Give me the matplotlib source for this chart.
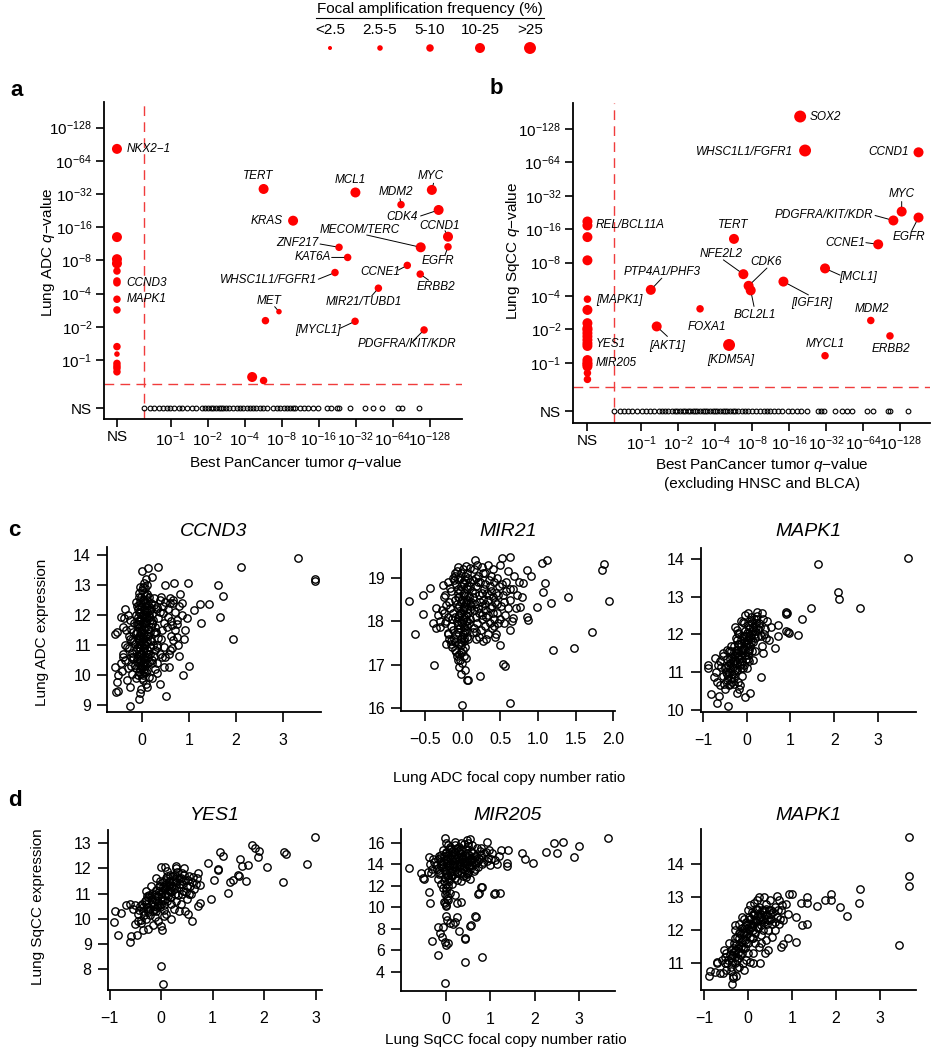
import numpy as np
import matplotlib
matplotlib.use("Agg")
import matplotlib.pyplot as plt

plt.rcParams['font.family'] = ['Liberation Sans', 'DejaVu Sans']
plt.rcParams['mathtext.fontset'] = 'custom'
plt.rcParams['mathtext.rm'] = 'Liberation Sans'
plt.rcParams['mathtext.it'] = 'Liberation Sans:italic'
plt.rcParams['mathtext.bf'] = 'Liberation Sans:bold'

# ---------------- DATA ----------------
LEG_LABELS = ['<2.5', '2.5-5', '5-10', '10-25', '>25']
CAT_DIAM_PT = [2.9, 4.0, 5.4, 7.2, 8.6]   # marker diameters (style)

# values are -log10(q); np.nan = NS
A_GENES = ['NKX2−1', 'CCND3', 'MAPK1', 'TERT', 'KRAS', 'MCL1', 'MDM2', 'MYC', 'CDK4', 'CCND1',
           'EGFR', 'MECOM/TERC', 'ZNF217', 'KAT6A', 'CCNE1', 'ERBB2', 'WHSC1L1/FGFR1',
           'MIR21/TUBD1', 'MET', '[MYCL1]', 'PDGFRA/KIT/KDR']
A_PAN = [np.nan, np.nan, np.nan, 5.7, 9.9, 31.8, 74.7, 133, 151, 180,
         180, 108, 23.4, 27.5, 84, 107, 21.7, 48.9, 7.6, 31.6, 115]
A_LUNG = [82, 5.0, 3.55, 35.5, 18.3, 33, 25.6, 34.8, 22.9, 13.1,
          10.6, 10.5, 10.5, 8.5, 7.2, 6.0, 6.2, 4.47, 2.74, 2.24, 1.87]
A_CAT = [3, 2, 2, 3, 3, 3, 2, 3, 3, 3, 2, 3, 2, 2, 2, 2, 2, 2, 1, 2, 2]
A_X_PAN = [5.9, 4.6, 5.7, np.nan, np.nan, np.nan, np.nan, np.nan, np.nan, np.nan, np.nan,
           np.nan, np.nan, np.nan, np.nan]
A_X_LUNG = [2.27, 0.70, 0.65, 13, 8.2, 7.5, 6.4, 5.2, 2.84, 1.32, 1.13, 0.93, 0.88, 0.84, 0.78]
A_X_CAT = [2, 3, 2, 3, 3, 3, 2, 2, 2, 2, 1, 2, 2, 2, 2]
A_NS_PAN = [0.61, 0.68, 0.73, 0.80, 0.87, 0.93, 0.99, 1.06, 1.16, 1.23, 1.35, 1.48, 1.62, 1.79,
            1.91, 2.03, 2.11, 2.22, 2.35, 2.45, 2.55, 2.68, 2.83, 3.01, 3.23, 3.48, 3.66, 3.89,
            4.14, 4.41, 4.69, 4.96, 5.28, 5.66, 6.02, 6.82, 7.26, 7.73, 8.28, 8.82, 9.38, 9.85,
            10.3, 11.3, 12.1, 13.2, 14.5, 15.9, 18.6, 20.0, 22.5, 23.6, 28.8, 38.1, 44.6, 52,
            70, 75.6, 105]

B_GENES = ['SOX2', 'WHSC1L1/FGFR1', 'CCND1', 'MYC', 'PDGFRA/KIT/KDR', 'EGFR', 'CCNE1', 'TERT',
           'REL/BCL11A', '[MAPK1]', 'YES1', 'MIR205', 'PTP4A1/PHF3', 'NFE2L2', 'CDK6', 'BCL2L1',
           '[IGF1R]', '[MCL1]', 'FOXA1', '[AKT1]', '[KDM5A]', 'MDM2', 'ERBB2', 'MYCL1']
B_PAN = [19.7, 21.6, 181, 132, 113, 181, 85, 5.7,
         np.nan, np.nan, np.nan, np.nan, 1.2, 6.8, 7.5, 7.8,
         14.4, 31.4, 3.02, 1.34, 5.2, 74, 106, 31.4]
B_LUNG = [166, 82, 79, 23.1, 19.2, 20.4, 11.7, 13.1,
          17.3, 3.75, 1.5, 1.0, 4.55, 6.3, 4.95, 4.5,
          5.4, 7.1, 3.07, 2.13, 1.45, 2.41, 1.75, 1.16]
B_CAT = [4, 4, 3, 3, 3, 3, 3, 3, 3, 2, 3, 3, 3, 3, 3, 3, 3, 3, 2, 3, 4, 2, 2, 2]
B_X_LUNG = [18.8, 13.6, 8.4, 3.0, 2.28, 2.05, 1.98, 1.85, 1.73, 1.61, 1.42, 1.06, 0.97, 0.93,
            0.81, 0.71]
B_X_CAT = [3, 3, 3, 3, 3, 3, 3, 3, 3, 3, 3, 3, 3, 3, 2, 2]
B_NS_PAN = [0.60, 0.67, 0.73, 0.79, 0.85, 0.92, 1.01, 1.10, 1.18, 1.28, 1.39, 1.47, 1.57, 1.67,
            1.78, 1.89, 1.97, 2.07, 2.19, 2.28, 2.39, 2.50, 2.64, 2.75, 2.87, 3.01, 3.18, 3.32,
            3.46, 3.63, 3.84, 4.0, 4.17, 4.41, 4.63, 4.82, 5.03, 5.31, 5.58, 5.82, 6.19, 6.59,
            7.01, 7.46, 7.94, 8.63, 9.32, 9.92, 10.6, 11.2, 12.0, 13.1, 13.9, 15.8, 16.8, 18.5,
            20.0, 22.3, 27.3, 29.0, 30.9, 37.8, 42.8, 47.2, 51.6, 68.6, 77.7, 103, 106, 150]

Q_THRESH = 0.25
Q_TICKS = [1, 2, 4, 8, 16, 32, 64, 128]

# copy number ratio vs expression (x = focal copy number ratio, y = expression)
C_CCND3 = [(3.33, 13.89), (3.69, 13.19), (3.69, 13.13), (2.11, 13.59), (1.93, 11.2), (1.63, 13.02),
           (1.72, 12.63), (1.67, 11.94), (1.42, 12.37), (1.24, 12.37), (1.26, 11.74), (1.11, 12.17),
           (0.99, 13.06), (1.01, 10.3), (0.87, 10.0), (0.82, 12.7), (0.69, 13.06), (0.80, 10.63),
           (0.50, 13.0), (0.35, 13.61), (0.13, 13.58), (0.22, 13.28), (0.0, 13.48), (0.52, 9.3),
           (0.39, 9.69), (-0.05, 9.22), (-0.04, 9.39), (-0.26, 8.98), (-0.26, 9.61), (-0.55, 9.44),
           (-0.50, 9.48), (-0.53, 9.78), (-0.32, 9.83), (-0.57, 10.28), (-0.52, 11.44), (-0.57, 11.37),
           (-0.45, 11.94), (-0.38, 11.92), (-0.26, 11.83), (-0.33, 11.5), (-0.21, 11.17), (-0.32, 10.94),
           (-0.39, 10.59), (-0.18, 10.61), (0.57, 10.28), (0.48, 10.28), (0.32, 10.06), (0.21, 9.89),
           (0.09, 9.72), (0.67, 11.17), (0.64, 11.67), (0.74, 11.28), (0.74, 11.83), (0.92, 11.5),
           (0.85, 12.0), (0.96, 11.89), (0.67, 12.39), (0.60, 12.56), (0.39, 12.5), (0.32, 12.28),
           (0.46, 12.06), (0.53, 11.61), (0.60, 10.83), (0.50, 10.61), (0.32, 10.94), (0.25, 11.39),
           (0.21, 11.72), (0.18, 12.17), (0.25, 12.56), (0.11, 12.72), (0.14, 12.33), (0.18, 11.17),
           (0.14, 10.61), (0.21, 10.39), (0.11, 10.17), (0.04, 13.06), (0.02, 12.94), (0.07, 12.89),
           (-0.05, 12.6), (0.02, 12.5), (0.07, 12.4), (-0.02, 12.3), (0.04, 12.2), (-0.07, 12.1),
           (0.01, 12.0), (0.06, 11.9), (-0.03, 11.8), (0.03, 11.7), (-0.06, 11.6), (0.0, 11.5),
           (0.05, 11.4), (-0.04, 11.3), (0.02, 11.2), (0.08, 11.1), (-0.02, 11.0), (0.04, 10.9),
           (-0.06, 10.8), (0.01, 10.7), (0.06, 10.6), (-0.03, 10.5), (0.03, 10.4), (-0.01, 10.3),
           (0.05, 10.2), (-0.05, 10.1), (0.02, 10.0), (0.0, 9.9), (-0.08, 11.95), (0.09, 11.75),
           (-0.09, 11.25), (0.1, 10.85), (-0.1, 10.55), (0.12, 12.25), (-0.12, 12.45), (0.14, 11.55),
           (-0.14, 11.05), (0.15, 10.45), (-0.15, 10.35), (0.0, 12.85), (0.05, 12.75), (-0.03, 12.95),
           (0.1, 12.1), (0.13, 11.3), (-0.11, 11.7), (0.18, 11.85), (0.2, 11.15), (0.22, 12.05),
           (-0.18, 11.45), (-0.2, 10.75), (0.25, 10.65), (0.28, 11.6), (0.3, 12.2), (0.35, 11.9),
           (0.33, 11.0), (0.38, 10.7), (0.42, 11.5), (0.45, 12.3), (-0.25, 11.2), (-0.22, 10.3),
           (-0.28, 10.9), (-0.35, 10.5), (-0.4, 11.6), (-0.3, 12.0), (0.4, 12.6), (0.55, 11.95),
           (0.6, 12.4), (0.62, 11.3), (0.7, 12.1), (0.75, 11.7), (0.8, 12.3), (0.65, 10.9),
           (0.58, 10.7), (0.47, 10.95), (0.16, 9.95), (-0.13, 9.9), (0.27, 10.2), (0.1, 9.6),
           (-0.02, 9.55),
           (-0.07, 12.75), (0.08, 12.65), (-0.04, 12.45), (0.09, 12.35), (-0.09, 12.2), (0.05, 12.05),
           (-0.05, 11.85), (0.1, 11.95), (-0.08, 11.7), (0.07, 11.6), (-0.02, 11.45), (0.09, 11.35),
           (-0.07, 11.15), (0.05, 11.05), (-0.05, 10.95), (0.08, 10.75), (-0.08, 10.65), (0.04, 10.55),
           (-0.06, 10.4), (0.07, 10.3), (-0.03, 10.2), (0.09, 10.1), (-0.09, 10.0), (0.03, 9.85),
           (0.15, 12.6), (0.2, 12.4), (0.26, 12.35), (0.16, 12.0), (0.22, 11.75), (0.3, 11.45),
           (0.17, 11.45), (0.24, 11.0), (0.28, 10.85), (0.18, 10.7), (0.22, 10.5), (0.32, 10.4),
           (0.35, 11.25), (0.4, 11.2), (0.38, 12.1), (0.48, 11.75), (0.5, 12.45), (0.44, 10.6),
           (-0.13, 12.0), (-0.16, 11.75), (-0.12, 11.4), (-0.17, 11.15), (-0.13, 10.85), (-0.18, 10.55),
           (-0.12, 10.25), (-0.2, 10.05), (-0.24, 11.55), (-0.27, 11.3), (-0.24, 10.6), (-0.3, 10.25),
           (-0.35, 11.0), (-0.4, 10.7), (-0.45, 10.4), (-0.42, 10.15), (-0.5, 10.0), (-0.36, 12.2),
           (0.12, 13.0), (0.08, 13.2), (0.55, 12.2), (0.62, 11.8), (0.7, 11.5), (0.66, 12.5),
           (0.85, 12.4), (0.9, 11.2), (0.78, 11.0),
           (-0.01, 12.62), (0.04, 12.52), (-0.06, 12.35), (0.01, 12.27), (0.06, 12.15), (-0.03, 12.07),
           (0.03, 11.97), (-0.01, 11.88), (0.07, 11.82), (-0.05, 11.72), (0.0, 11.63), (0.05, 11.55),
           (-0.02, 11.38), (0.03, 11.28), (-0.06, 11.22), (0.01, 11.12), (0.06, 11.02), (-0.03, 10.92),
           (0.02, 10.82), (-0.04, 10.72), (0.03, 10.62), (-0.01, 10.52), (0.05, 10.45), (-0.04, 10.35),
           (0.01, 10.25), (0.04, 10.12), (-0.02, 10.05), (0.11, 12.5), (0.12, 11.15), (0.13, 10.7),
           (-0.1, 11.45), (-0.11, 10.9), (0.11, 10.4), (-0.1, 12.3), (0.16, 11.95), (0.19, 12.25),
           (0.2, 11.6), (0.17, 10.95), (0.24, 11.85), (0.27, 11.45)]

C_MIR21 = [(-0.71, 18.47), (-0.64, 17.71), (-0.53, 18.6), (-0.53, 18.16), (-0.43, 18.76), (-0.35, 18.3),
           (-0.38, 16.99), (-0.39, 17.97), (-0.35, 17.84), (-0.30, 17.86), (-0.26, 18.83), (-0.24, 18.6),
           (-0.22, 18.37), (-0.19, 17.74), (-0.22, 17.48), (-0.15, 17.48), (-0.11, 17.52), (-0.09, 17.3),
           (-0.07, 17.11), (-0.05, 16.96), (-0.03, 16.8), (0.03, 16.88), (0.07, 16.65), (0.23, 16.74),
           (-0.005, 16.07), (0.16, 19.41), (-0.17, 18.76), (-0.13, 18.99),
           (1.05, 19.34), (1.12, 19.41), (1.88, 19.31), (1.85, 19.18), (1.94, 18.46), (1.72, 17.76),
           (1.40, 18.56), (1.17, 18.43), (1.20, 17.34), (1.48, 17.39), (1.07, 18.68), (1.09, 18.87),
           (0.98, 18.33), (0.91, 19.04), (0.85, 18.1), (0.87, 18.03), (0.76, 18.33), (0.80, 18.87),
           (0.85, 19.18), (0.67, 18.07), (0.63, 17.8), (0.53, 17.03), (0.56, 16.97), (0.62, 16.13),
           (0.49, 17.45), (0.43, 17.64), (0.52, 19.45), (0.63, 19.47), (0.05, 16.65),
           (-0.08, 19.15), (0.0, 19.2), (0.06, 19.1), (-0.04, 19.0), (0.03, 18.95), (0.1, 18.9),
           (-0.09, 18.85), (-0.02, 18.8), (0.05, 18.75), (0.12, 18.7), (-0.06, 18.65), (0.01, 18.6),
           (0.08, 18.55), (-0.1, 18.5), (-0.03, 18.45), (0.04, 18.4), (0.11, 18.35), (-0.07, 18.3),
           (0.0, 18.25), (0.07, 18.2), (-0.05, 18.15), (0.02, 18.1), (0.09, 18.05), (-0.08, 18.0),
           (-0.01, 17.95), (0.06, 17.9), (-0.04, 17.85), (0.03, 17.8), (-0.06, 17.75), (0.0, 17.7),
           (0.05, 17.65), (-0.03, 17.6), (0.02, 17.55), (-0.02, 17.45), (0.0, 17.35), (-0.05, 17.25),
           (0.04, 17.15), (-0.01, 17.05),
           (0.15, 19.2), (0.2, 19.05), (0.25, 19.25), (0.3, 19.1), (0.35, 18.95), (0.4, 19.2),
           (0.45, 19.0), (0.18, 18.8), (0.22, 18.6), (0.28, 18.75), (0.33, 18.5), (0.38, 18.7),
           (0.43, 18.45), (0.48, 18.8), (0.53, 18.6), (0.58, 18.9), (0.16, 18.4), (0.21, 18.2),
           (0.26, 18.35), (0.31, 18.1), (0.36, 18.3), (0.41, 18.05), (0.46, 18.2), (0.51, 18.35),
           (0.56, 18.15), (0.62, 18.5), (0.66, 18.75), (0.7, 18.3), (0.19, 17.95), (0.24, 17.8),
           (0.29, 17.9), (0.34, 17.7), (0.39, 17.85), (0.17, 17.6), (0.27, 17.55), (0.13, 17.75),
           (0.14, 18.55), (0.13, 18.95), (0.5, 19.3), (0.6, 19.15), (0.55, 17.95), (0.44, 17.7),
           (0.65, 18.0), (0.72, 18.6),
           (-0.12, 18.95), (-0.15, 18.7), (-0.13, 18.2), (-0.18, 18.45), (-0.2, 18.1), (-0.16, 17.9),
           (-0.25, 18.55), (-0.28, 18.25), (-0.12, 17.6), (-0.14, 17.4), (-0.3, 18.0), (-0.11, 19.1),
           (-0.2, 17.7),
           (-0.06, 19.25), (0.04, 19.28), (0.1, 19.22), (-0.1, 19.05), (0.07, 19.0), (0.0, 18.9),
           (-0.07, 18.75), (0.09, 18.8), (-0.05, 18.55), (0.05, 18.5), (0.11, 18.45), (-0.08, 18.4),
           (0.02, 18.35), (-0.04, 18.2), (0.1, 18.25), (-0.1, 18.1), (0.04, 18.0), (0.08, 17.95),
           (-0.06, 17.92), (0.02, 17.75), (-0.09, 17.7), (0.07, 17.6), (-0.05, 17.5), (0.03, 17.4),
           (-0.02, 17.3), (0.02, 17.2), (-0.04, 17.1), (0.19, 19.3), (0.27, 19.1), (0.33, 19.3),
           (0.37, 19.05), (0.42, 18.9), (0.2, 18.9), (0.25, 18.65), (0.3, 18.85), (0.35, 18.6),
           (0.4, 18.55), (0.47, 18.6), (0.52, 18.85), (0.57, 18.7), (0.18, 18.1), (0.23, 18.45),
           (0.29, 18.25), (0.34, 18.15), (0.39, 18.35), (0.45, 18.4), (0.5, 18.05), (0.6, 18.3),
           (0.22, 17.65), (0.31, 17.6), (0.36, 17.95), (0.42, 17.9), (0.15, 17.85), (0.15, 18.25),
           (0.47, 17.95), (0.55, 18.45), (0.62, 18.75), (0.68, 19.05), (0.75, 18.9), (0.78, 18.55),
           (-0.14, 18.05), (-0.17, 18.3), (-0.19, 18.9), (-0.22, 18.0), (-0.24, 17.95), (-0.13, 17.8),
           (-0.16, 17.55), (-0.1, 17.35), (-0.08, 17.2), (-0.25, 18.2), (-0.33, 18.15), (-0.18, 17.6),
           (-0.02, 19.12), (0.03, 19.05), (-0.06, 18.97), (0.01, 18.85), (0.06, 18.82), (-0.04, 18.7),
           (0.02, 18.65), (0.07, 18.6), (-0.07, 18.55), (-0.01, 18.5), (0.04, 18.45), (0.09, 18.4),
           (-0.05, 18.35), (0.01, 18.3), (0.06, 18.28), (-0.02, 18.2), (0.04, 18.15), (-0.07, 18.1),
           (0.0, 18.05), (0.06, 18.0), (-0.03, 17.98), (0.01, 17.88), (-0.07, 17.82), (0.05, 17.78),
           (-0.01, 17.65), (0.02, 17.62), (-0.03, 17.52), (0.17, 19.0), (0.23, 18.9), (0.27, 18.5),
           (0.32, 18.65), (0.2, 18.3), (0.25, 18.05), (0.3, 18.4), (0.16, 18.65), (0.36, 18.8),
           (0.44, 18.65), (0.4, 18.2), (0.18, 17.75), (0.26, 18.15)]

C_MAPK1 = [(3.69, 14.02), (1.62, 13.87), (2.09, 13.13), (2.10, 12.93), (2.60, 12.69), (1.46, 12.69),
           (1.26, 12.41), (1.18, 11.99), (0.91, 12.6), (0.93, 12.56), (0.90, 12.55), (0.95, 12.07),
           (0.97, 12.05), (0.90, 12.1), (0.72, 12.25), (0.72, 11.95), (0.65, 11.63), (0.33, 10.88),
           (0.23, 12.6), (0.34, 12.56), (0.46, 12.37), (0.55, 12.2), (0.5, 11.85), (0.37, 11.5),
           (0.15, 11.33), (0.08, 10.44), (-0.04, 10.35), (-0.23, 10.44), (-0.17, 10.55), (-0.42, 10.11),
           (-0.68, 10.19), (-0.82, 10.42), (-0.63, 10.38), (-0.88, 11.19), (-0.88, 11.1), (-0.73, 11.37),
           (-0.74, 10.88), (-0.68, 10.75), (-0.53, 11.42), (-0.46, 11.6), (-0.38, 10.7), (-0.23, 12.12),
           (-0.19, 11.75), (-0.04, 12.52), (0.03, 12.56), (-0.08, 12.34),
           (-0.55, 10.9), (-0.5, 11.1), (-0.45, 10.8), (-0.42, 11.2), (-0.4, 11.0), (-0.37, 11.35),
           (-0.35, 10.85), (-0.32, 11.15), (-0.3, 11.45), (-0.28, 10.95), (-0.26, 11.3), (-0.24, 11.6),
           (-0.22, 11.05), (-0.2, 11.4), (-0.18, 11.75), (-0.16, 11.2), (-0.14, 11.55), (-0.12, 11.85),
           (-0.1, 11.3), (-0.08, 11.65), (-0.06, 11.95), (-0.04, 11.45), (-0.02, 11.75), (0.0, 12.05),
           (0.02, 11.55), (0.04, 11.85), (0.06, 12.15), (0.08, 11.7), (0.1, 12.0), (0.12, 12.3),
           (0.15, 11.8), (0.18, 12.1), (0.22, 12.4), (0.25, 11.95), (0.3, 12.2), (-0.6, 11.3),
           (-0.62, 10.65), (-0.5, 10.55), (-0.3, 10.7), (-0.1, 10.9), (0.0, 11.1), (0.05, 11.3),
           (-0.15, 10.65), (-0.25, 11.9), (-0.05, 12.3), (0.1, 12.45), (-0.4, 11.55), (0.2, 11.55),
           (0.35, 11.7), (0.4, 12.0), (0.45, 11.9), (-0.7, 11.0), (-0.55, 11.5),
           (-0.52, 10.7), (-0.48, 11.0), (-0.44, 11.35), (-0.41, 10.65), (-0.38, 11.1), (-0.36, 11.55),
           (-0.33, 10.75), (-0.31, 11.3), (-0.29, 11.7), (-0.27, 11.05), (-0.25, 11.5), (-0.23, 11.85),
           (-0.21, 11.25), (-0.19, 11.6), (-0.17, 12.0), (-0.15, 11.45), (-0.13, 11.1), (-0.11, 11.5),
           (-0.09, 11.95), (-0.07, 11.2), (-0.05, 11.65), (-0.03, 12.1), (-0.01, 11.35), (0.01, 11.85),
           (0.03, 12.25), (0.05, 11.6), (0.07, 11.95), (0.09, 12.35), (0.11, 11.8), (0.13, 12.1),
           (0.16, 12.4), (0.19, 11.9), (0.21, 12.2), (0.24, 12.5), (0.28, 12.3), (0.32, 11.95),
           (0.38, 12.4), (0.42, 12.15), (-0.58, 11.15), (-0.46, 10.95), (-0.34, 10.95), (-0.2, 10.75),
           (-0.08, 11.1), (0.02, 11.35), (0.12, 11.55), (-0.65, 11.2), (-0.27, 12.2), (-0.12, 12.35),
           (-0.47, 11.15), (-0.43, 10.9), (-0.39, 11.25), (-0.34, 11.4), (-0.3, 11.2), (-0.26, 11.45),
           (-0.22, 11.5), (-0.18, 11.35), (-0.14, 11.75), (-0.1, 11.6), (-0.06, 11.8), (-0.02, 11.95),
           (0.02, 11.75), (0.06, 12.05), (0.1, 11.9), (0.14, 12.2), (0.18, 12.0), (0.22, 12.3),
           (0.26, 12.15), (-0.3, 10.85), (-0.12, 11.25), (0.04, 11.45), (-0.36, 11.7), (-0.2, 12.05)]

D_YES1 = [(2.99, 13.27), (2.83, 12.18), (2.38, 12.64), (2.43, 12.56), (2.36, 11.44), (2.05, 12.07),
          (1.76, 12.93), (1.83, 12.8), (1.91, 12.69), (1.89, 12.47), (1.65, 11.51), (1.68, 12.14),
          (1.58, 12.1), (1.53, 12.36), (1.51, 11.71), (1.49, 11.74), (1.40, 11.54), (1.34, 11.47),
          (1.31, 11.04), (1.15, 12.67), (1.20, 12.5), (1.10, 11.94), (1.11, 11.98), (1.02, 11.54),
          (0.92, 12.2), (0.98, 10.77), (0.76, 10.61), (0.71, 10.52), (0.60, 9.92), (0.53, 10.19),
          (0.47, 10.31), (0.08, 12.05), (0.30, 12.1), (0.0, 8.13), (0.03, 7.40), (0.01, 9.55),
          (-0.89, 10.32), (-0.91, 9.88), (-0.84, 9.33), (-0.60, 9.09), (-0.59, 9.29), (-0.78, 10.24),
          (-0.68, 10.55), (-0.47, 9.35), (-0.34, 9.55), (-0.38, 9.82),
          (-0.45, 10.2), (-0.4, 10.5), (-0.38, 9.95), (-0.35, 10.3), (-0.32, 10.7), (-0.3, 10.0),
          (-0.28, 10.45), (-0.25, 10.85), (-0.22, 10.15), (-0.2, 10.6), (-0.18, 11.0), (-0.15, 10.3),
          (-0.12, 10.75), (-0.1, 11.15), (-0.08, 10.45), (-0.05, 10.9), (-0.03, 11.3), (0.0, 10.6),
          (0.02, 11.05), (0.04, 11.45), (0.06, 10.75), (0.08, 11.2), (0.1, 11.6), (0.13, 10.9),
          (0.15, 11.35), (0.18, 11.75), (0.2, 11.05), (0.23, 11.5), (0.26, 11.2), (0.3, 11.65),
          (0.33, 10.95), (0.36, 11.4), (0.4, 11.8), (0.43, 11.1), (0.46, 11.55), (0.5, 11.3),
          (0.55, 11.7), (0.6, 11.45), (0.65, 11.2), (0.7, 11.6), (0.75, 11.35), (0.5, 10.8),
          (0.38, 10.6), (0.25, 10.4), (0.1, 10.2), (-0.05, 9.9), (-0.15, 9.75), (0.0, 9.7),
          (0.12, 11.9), (0.0, 12.05), (-0.1, 11.6), (-0.2, 11.3), (-0.3, 11.1), (0.3, 12.0),
          (0.45, 12.0), (0.58, 11.0), (-0.55, 10.4), (-0.5, 9.8), (-0.6, 10.6), (0.2, 10.0),
          (0.35, 10.3), (0.05, 10.35), (-0.25, 9.6),
          (-0.42, 10.35), (-0.36, 10.6), (-0.33, 10.15), (-0.29, 10.75), (-0.26, 10.25), (-0.23, 10.95),
          (-0.21, 10.4), (-0.17, 10.8), (-0.14, 10.5), (-0.11, 11.0), (-0.09, 10.3), (-0.06, 10.65),
          (-0.04, 11.1), (-0.01, 10.45), (0.01, 10.85), (0.03, 11.25), (0.05, 10.55), (0.07, 11.0),
          (0.09, 11.4), (0.11, 10.7), (0.14, 11.15), (0.16, 11.5), (0.19, 10.85), (0.21, 11.3),
          (0.24, 11.7), (0.27, 11.0), (0.29, 11.45), (0.32, 11.85), (0.34, 11.25), (0.38, 11.6),
          (0.41, 11.4), (0.44, 11.75), (0.48, 11.05), (0.52, 11.55), (0.57, 11.3), (0.62, 11.65),
          (0.67, 11.4), (0.72, 11.8), (-0.02, 11.5), (0.12, 11.7), (0.06, 10.1), (-0.12, 10.05),
          (0.2, 10.6), (0.3, 10.7), (-0.5, 10.55), (-0.45, 9.9), (0.4, 11.0), (0.55, 11.0),
          (-0.35, 10.45), (-0.3, 10.6), (-0.25, 10.35), (-0.2, 10.85), (-0.15, 10.65), (-0.1, 10.9),
          (-0.05, 10.55), (0.0, 11.0), (0.05, 11.2), (0.1, 10.95), (0.15, 11.45), (0.2, 11.25),
          (0.25, 11.55), (0.3, 11.35), (0.35, 11.6), (-0.12, 10.4), (0.02, 10.75), (0.08, 11.55),
          (0.18, 11.1), (0.28, 11.75), (-0.28, 10.9), (0.42, 11.5), (0.1, 11.3), (-0.02, 11.3)]

D_MIR205 = [(-0.82, 13.61), (-0.56, 13.15), (-0.50, 12.69), (-0.48, 12.6), (-0.38, 14.7), (-0.38, 11.39),
            (-0.34, 10.42), (-0.31, 6.88), (-0.17, 5.55), (-0.17, 8.19), (-0.13, 7.57), (-0.09, 7.26),
            (-0.06, 8.19), (-0.02, 6.79), (0.02, 6.48), (0.06, 6.69), (0.0, 9.19), (-0.02, 2.92),
            (0.04, 8.81), (0.10, 8.5), (0.21, 8.66), (0.26, 9.13), (0.16, 8.41), (0.31, 7.79),
            (0.44, 7.1), (0.44, 4.93), (0.68, 9.07), (0.55, 8.26), (0.81, 5.4), (0.75, 11.29),
            (0.81, 11.91), (1.1, 11.29), (0.0, 10.12), (0.06, 10.68), (0.21, 11.16), (0.26, 10.38),
            (0.34, 10.44), (0.47, 16.25), (-0.02, 16.4),
            (3.65, 16.47), (3.0, 15.72), (2.87, 14.7), (2.64, 16.09), (2.44, 15.94), (2.51, 15.01),
            (2.25, 15.16), (1.95, 14.14), (1.78, 14.45), (1.71, 15.07), (1.37, 14.14), (1.37, 13.86),
            (1.39, 15.3), (1.15, 14.02), (1.22, 11.29), (1.09, 11.23), (0.79, 11.91), (0.73, 11.23),
            (0.67, 9.18), (0.56, 8.33), (0.43, 7.01), (0.51, 15.94), (0.80, 15.55), (0.92, 16.09),
            (0.55, 16.31),
            (-0.25, 14.2), (-0.2, 13.6), (-0.15, 14.8), (-0.12, 13.2), (-0.08, 14.0), (-0.05, 15.3),
            (-0.02, 12.8), (0.0, 14.5), (0.02, 13.5), (0.05, 15.8), (0.07, 12.4), (0.1, 14.1),
            (0.12, 13.0), (0.15, 15.1), (0.18, 13.7), (0.2, 14.6), (0.22, 12.7), (0.25, 15.5),
            (0.28, 13.3), (0.3, 14.3), (0.33, 15.0), (0.35, 13.9), (0.38, 12.9), (0.4, 14.7),
            (0.43, 13.5), (0.45, 15.4), (0.48, 14.0), (0.5, 13.2), (0.53, 14.9), (0.55, 13.8),
            (0.58, 15.2), (0.6, 14.4), (0.63, 13.4), (0.65, 14.8), (0.68, 14.1), (0.7, 15.5),
            (0.73, 13.7), (0.75, 14.5), (0.8, 14.9), (0.85, 14.2), (0.9, 15.1), (0.95, 14.6),
            (1.0, 13.9), (1.05, 15.0), (1.1, 14.4), (1.2, 14.8), (1.25, 15.3), (-0.3, 13.6),
            (-0.35, 14.0), (-0.4, 13.3), (0.0, 11.5), (0.03, 11.0), (-0.03, 10.5), (0.05, 12.0),
            (-0.05, 11.8), (0.02, 10.2), (0.1, 11.3), (-0.1, 12.2), (0.15, 12.2), (0.08, 15.0),
            (0.25, 13.9), (0.42, 15.9), (0.0, 16.0), (0.2, 16.1), (0.35, 12.4), (0.55, 12.6),
            (0.6, 15.8), (0.15, 13.4), (-0.1, 14.9), (0.45, 14.3), (0.3, 15.6), (-0.18, 12.6),
            (-0.22, 13.9), (-0.18, 14.5), (-0.14, 13.5), (-0.1, 14.3), (-0.06, 13.7), (-0.03, 14.8),
            (0.01, 13.2), (0.03, 14.2), (0.06, 13.8), (0.08, 14.7), (0.11, 13.3), (0.13, 15.4),
            (0.16, 14.0), (0.19, 14.9), (0.21, 13.5), (0.24, 14.5), (0.27, 15.2), (0.29, 13.8),
            (0.32, 14.6), (0.34, 13.3), (0.37, 15.3), (0.39, 14.2), (0.42, 13.8), (0.44, 14.9),
            (0.47, 13.4), (0.49, 15.0), (0.52, 14.3), (0.54, 13.6), (0.57, 14.6), (0.59, 13.9),
            (0.62, 15.0), (0.64, 14.2), (0.67, 13.6), (0.69, 14.8), (0.72, 14.3), (0.77, 15.2),
            (0.82, 14.0), (0.87, 15.0), (0.92, 14.3), (0.97, 15.3), (1.02, 14.5), (0.0, 15.1),
            (0.1, 15.6), (0.2, 15.8), (0.35, 16.0), (0.5, 15.7), (0.05, 13.0), (0.15, 12.9),
            (0.25, 12.5), (0.45, 12.8), (-0.04, 12.4), (0.02, 11.8), (-0.02, 11.2), (0.04, 10.8),
            (-0.01, 10.4), (0.01, 12.2), (0.08, 12.6), (-0.12, 14.6), (-0.28, 14.5), (-0.32, 13.2),
            (-0.1, 13.8), (-0.05, 14.2), (0.0, 13.7), (0.04, 14.4), (0.08, 13.9), (0.12, 14.5),
            (0.16, 13.9), (0.2, 14.3), (0.24, 13.7), (0.28, 14.7), (0.32, 14.1), (0.36, 14.5),
            (0.4, 13.6), (0.44, 14.2), (0.48, 14.6), (0.52, 13.9), (0.58, 14.3), (0.64, 14.6),
            (0.02, 15.0), (0.12, 14.9), (0.22, 15.1), (0.32, 15.4), (0.04, 12.9), (0.14, 13.4),
            (0.26, 13.2), (0.36, 13.2), (0.48, 13.1), (-0.15, 13.1), (-0.02, 13.4), (0.07, 15.4)]

D_MAPK1 = [(3.66, 14.82), (3.66, 13.64), (3.66, 13.35), (3.43, 11.55), (2.54, 13.24), (2.53, 12.81),
           (2.24, 12.43), (2.09, 12.69), (1.88, 13.09), (1.88, 12.91), (1.75, 12.91), (1.56, 12.74),
           (1.33, 13.01), (1.33, 12.81), (1.21, 12.82), (1.33, 12.18), (1.22, 12.15), (1.10, 12.41),
           (1.08, 11.65), (0.91, 11.77), (0.93, 13.09), (1.0, 13.09), (0.74, 11.48), (0.80, 11.58),
           (0.65, 13.03), (0.14, 12.82), (0.38, 11.3), (0.27, 11.0), (-0.89, 10.6), (-0.86, 10.75),
           (-0.72, 11.05), (-0.75, 10.72), (-0.57, 10.7), (-0.53, 11.0), (-0.36, 10.37), (-0.34, 10.55),
           (-0.27, 10.62), (-0.50, 11.3), (-0.43, 11.6), (-0.29, 12.15), (-0.10, 12.33), (-0.08, 11.93),
           (0.11, 11.0),
           (-0.45, 11.1), (-0.4, 11.4), (-0.38, 10.9), (-0.35, 11.25), (-0.32, 11.6), (-0.3, 11.0),
           (-0.27, 11.4), (-0.25, 11.8), (-0.22, 11.15), (-0.2, 11.55), (-0.18, 11.95), (-0.15, 11.3),
           (-0.12, 11.7), (-0.1, 12.1), (-0.08, 11.45), (-0.05, 11.85), (-0.02, 12.2), (0.0, 11.6),
           (0.03, 12.0), (0.05, 12.35), (0.08, 11.75), (0.1, 12.15), (0.13, 12.45), (0.15, 11.9),
           (0.18, 12.3), (0.2, 12.6), (0.23, 12.05), (0.26, 12.4), (0.3, 12.15), (0.33, 12.55),
           (0.36, 12.25), (0.4, 12.65), (0.43, 12.35), (0.46, 12.0), (0.5, 12.5), (0.55, 12.2),
           (0.6, 12.7), (0.65, 12.4), (0.7, 12.9), (0.75, 12.6), (0.8, 12.3), (0.85, 12.8),
           (0.9, 12.5), (0.55, 11.8), (0.4, 11.7), (0.25, 11.5), (0.1, 11.3), (-0.05, 11.1),
           (-0.2, 10.9), (-0.5, 10.8), (-0.55, 11.4), (-0.6, 11.1), (-0.35, 10.6), (0.0, 12.6),
           (-0.15, 12.4), (0.2, 12.9), (0.35, 13.0), (0.5, 12.9), (0.45, 11.4), (0.6, 12.0),
           (0.7, 12.2), (-0.1, 10.8), (0.05, 11.05), (0.3, 11.6), (-0.3, 12.0), (-0.65, 10.7),
           (-0.7, 11.0),
           (-0.42, 11.25), (-0.37, 11.05), (-0.34, 11.45), (-0.31, 11.2), (-0.29, 11.75), (-0.26, 11.1),
           (-0.23, 11.45), (-0.21, 11.9), (-0.19, 11.25), (-0.16, 11.65), (-0.14, 12.05), (-0.11, 11.45),
           (-0.09, 11.9), (-0.06, 12.25), (-0.04, 11.6), (-0.01, 12.05), (0.01, 12.4), (0.04, 11.8),
           (0.06, 12.2), (0.09, 12.55), (0.11, 12.0), (0.14, 12.3), (0.17, 12.65), (0.19, 12.1),
           (0.22, 12.45), (0.25, 12.7), (0.28, 12.3), (0.31, 12.6), (0.34, 12.0), (0.38, 12.45),
           (0.41, 12.8), (0.44, 12.2), (0.48, 12.6), (0.52, 12.35), (0.57, 12.55), (0.62, 12.25),
           (0.68, 12.6), (0.73, 12.35), (0.78, 12.75), (-0.48, 11.0), (-0.53, 11.2), (-0.4, 10.75),
           (-0.25, 10.85), (-0.12, 11.0), (0.0, 11.3), (0.15, 11.6), (0.3, 11.85), (-0.2, 12.2),
           (0.05, 12.75), (0.25, 13.0),
           (-0.4, 11.15), (-0.33, 11.35), (-0.28, 11.55), (-0.24, 11.3), (-0.2, 11.75), (-0.16, 11.5),
           (-0.12, 11.95), (-0.08, 11.7), (-0.04, 12.15), (0.0, 11.9), (0.04, 12.35), (0.08, 12.1),
           (0.12, 12.5), (0.16, 12.25), (0.2, 12.65), (0.24, 12.35), (0.28, 12.5), (0.33, 12.3),
           (0.37, 12.6), (0.42, 12.45), (0.47, 12.3), (0.53, 12.6), (-0.3, 11.4), (0.1, 11.75)]

# ---------------- LAYOUT / STYLE ----------------
W, H = 932, 1050
RED = '#ff0000'
DASH_RED = '#f03c3c'
NS_U = -1.45            # axis position (log2 units) of the NS row / column

LAYOUT_A = {
    'NKX2−1': (9.3, 0, 'left', None), 'CCND3': (9.3, 0, 'left', None),
    'MAPK1': (9.3, 0, 'left', None), 'TERT': (-5.7, 13, 'center', None),
    'KRAS': (-10.7, 0, 'right', None), 'MCL1': (-5.3, 12.3, 'center', None),
    'MDM2': (-5, 12.3, 'center', (-1, 6)), 'MYC': (-1, 14, 'center', (1.7, 6.7)),
    'CDK4': (-37, -7.3, 'center', (-18, -6)), 'CCND1': (-8, 11, 'center', (-3, 6)),
    'EGFR': (-9.7, -14.3, 'center', (-3, -8.3)), 'MECOM/TERC': (-60.7, 17.3, 'center', (-54, 12.3)),
    'ZNF217': (-20.7, 4, 'right', (-19, 3.3)), 'KAT6A': (-16.7, 0, 'right', (-16, 0)),
    'CCNE1': (-27.3, -7, 'center', (-9, -4.7)), 'ERBB2': (16, -12.7, 'center', (8.3, -6)),
    'WHSC1L1/FGFR1': (-18.3, -7.7, 'right', (-16.7, -6.7)),
    'MIR21/TUBD1': (-15, -13.3, 'center', (-6.7, -7.7)), 'MET': (-10, 11, 'center', (-4.3, 5)),
    '[MYCL1]': (-36.7, -8.7, 'center', (-15, -7)),
    'PDGFRA/KIT/KDR': (-16.7, -14.3, 'center', (-10.7, -10.7)),
}
LAYOUT_B = {
    'SOX2': (10, 0, 'left', None), 'WHSC1L1/FGFR1': (-11.7, -1.7, 'right', None),
    'CCND1': (-10, 0, 'right', None), 'MYC': (0, 17.7, 'center', (0, 10)),
    'PDGFRA/KIT/KDR': (-20, 5.7, 'right', (-18.3, 5)), 'EGFR': (-10, -19.7, 'center', (-6.7, -13)),
    'CCNE1': (-13.3, 1.7, 'right', (-12.3, 1.7)), 'TERT': (-1.3, 13.7, 'center', None),
    'REL/BCL11A': (8.3, 0, 'left', None), '[MAPK1]': (8.3, -0.7, 'left', None),
    'YES1': (8.3, -0.7, 'left', None), 'MIR205': (8.3, 0, 'left', None),
    'PTP4A1/PHF3': (11, 18.3, 'center', (11, 11.7)), 'NFE2L2': (-22.7, 20.3, 'center', (-20, 14.3)),
    'CDK6': (17.7, 23.3, 'center', (18.3, 17.7)), 'BCL2L1': (4.3, -24.3, 'center', (3.3, -16)),
    '[IGF1R]': (28.3, -21, 'center', (25, -13.3)), '[MCL1]': (33.3, -8.3, 'center', (15, -6.7)),
    'FOXA1': (6.7, -17.7, 'center', None), '[AKT1]': (10, -19.3, 'center', (10.7, -10)),
    '[KDM5A]': (1.3, -15, 'center', None), 'MDM2': (1, 11.3, 'center', None),
    'ERBB2': (0.7, -13.3, 'center', None), 'MYCL1': (0, 11.7, 'center', None),
}

fig = plt.figure(figsize=(W / 100, H / 100), dpi=100)

ov = fig.add_axes([0, 0, 1, 1])
ov.set_xlim(0, W)
ov.set_ylim(H, 0)
ov.axis('off')


def px_axes(x0, y0, x1, y1):
    return fig.add_axes([x0 / W, 1 - y1 / H, (x1 - x0) / W, (y1 - y0) / H])


def fwd(v):
    return np.log2(np.maximum(np.asarray(v, dtype=float), 1e-12))


def inv(u):
    return np.power(2.0, u)


NS_POS = 2.0 ** NS_U
px2pt = 0.72


def style_spines(ax, lw=1.3):
    for s in ['top', 'right']:
        ax.spines[s].set_visible(False)
    for s in ['left', 'bottom']:
        ax.spines[s].set_linewidth(lw)


def q_panel(box, xlim_u, ylim_u, genes, pan, lung, cat, xpan, xlung, xcat, ns_pan, layout):
    ax = px_axes(*box)
    ax.set_xscale('function', functions=(fwd, inv))
    ax.set_yscale('function', functions=(fwd, inv))
    ax.set_xlim(2.0 ** xlim_u[0], 2.0 ** xlim_u[1])
    ax.set_ylim(2.0 ** ylim_u[0], 2.0 ** ylim_u[1])
    style_spines(ax)
    thr = -np.log10(Q_THRESH)
    ax.axvline(thr, color=DASH_RED, lw=1.0, dashes=(7, 4.5), zorder=1)
    ax.axhline(thr, color=DASH_RED, lw=1.0, dashes=(7, 4.5), zorder=1)
    ax.plot(ns_pan, [NS_POS] * len(ns_pan), 'o', mfc='none', mec='k', ms=3.4, mew=0.8,
            zorder=2, clip_on=False)
    allx = np.concatenate([np.array(pan, float), np.array(xpan, float)])
    ally = np.concatenate([np.array(lung, float), np.array(xlung, float)])
    allc = list(cat) + list(xcat)
    allx = np.where(np.isnan(allx), NS_POS, allx)
    sizes = [CAT_DIAM_PT[c] ** 2 for c in allc]
    ax.scatter(allx, ally, s=sizes, c=RED, linewidths=0, zorder=3, clip_on=False)
    for g, px_, ly, c in zip(genes, pan, lung, cat):
        x = NS_POS if np.isnan(px_) else px_
        dx, dy, ha, line = layout[g]
        ax.annotate(g, (x, ly), xytext=(dx * px2pt, dy * px2pt), textcoords='offset points',
                    ha=ha, va='center', fontsize=8.5, style='italic', zorder=4)
        if line is not None:
            ax.annotate('', (x, ly), xytext=(line[0] * px2pt, line[1] * px2pt),
                        textcoords='offset points',
                        arrowprops=dict(arrowstyle='-', color='k', lw=0.7, shrinkA=0,
                                        shrinkB=CAT_DIAM_PT[c] / 2))
    ticks = [NS_POS] + Q_TICKS
    labels = ['NS'] + [r'$10^{-%d}$' % t for t in Q_TICKS]
    ax.set_xticks(ticks)
    ax.set_xticklabels(labels)
    ax.set_yticks(ticks)
    ax.set_yticklabels(labels)
    ax.xaxis.set_minor_locator(matplotlib.ticker.NullLocator())
    ax.yaxis.set_minor_locator(matplotlib.ticker.NullLocator())
    ax.tick_params(axis='both', direction='out', length=6, width=1.2, labelsize=11)
    ax.tick_params(axis='x', pad=2)
    ax.tick_params(axis='y', pad=2.5)
    return ax


q_panel((104, 102, 462, 419), (-1.80, 7.87), (-1.78, 7.77), A_GENES, A_PAN, A_LUNG, A_CAT,
        A_X_PAN, A_X_LUNG, A_X_CAT, A_NS_PAN, LAYOUT_A)
q_panel((573, 103, 930, 423), (-1.84, 7.81), (-1.80, 7.78), B_GENES, B_PAN, B_LUNG, B_CAT,
        [np.nan] * len(B_X_LUNG), B_X_LUNG, B_X_CAT, B_NS_PAN, LAYOUT_B)


def cn_panel(box, pts, xlim, ylim, xticks, yticks, xticklabels=None):
    ax = px_axes(*box)
    p = np.array(pts)
    ax.plot(p[:, 0], p[:, 1], 'o', mfc='none', mec='k', ms=5.3, mew=1.0, clip_on=False)
    ax.set_xlim(*xlim)
    ax.set_ylim(*ylim)
    style_spines(ax, 1.3)
    ax.set_xticks(xticks)
    if xticklabels is not None:
        ax.set_xticklabels(xticklabels)
    ax.set_yticks(yticks)
    ax.tick_params(axis='both', direction='out', length=7, width=1.2, labelsize=11.5)
    ax.tick_params(axis='x', pad=8)
    ax.tick_params(axis='y', pad=4.5)
    return ax


cn_panel((107, 547, 321, 711.7), C_CCND3, (-0.74, 3.81), (8.78, 14.27), [0, 1, 2, 3], range(9, 15))
cn_panel((401, 549, 615, 711), C_MIR21, (-0.82, 2.02), (15.94, 19.66),
         [-0.5, 0, 0.5, 1, 1.5, 2], range(16, 20), ['−0.5', '0.0', '0.5', '1.0', '1.5', '2.0'])
cn_panel((700.7, 548, 916, 711.7), C_MAPK1, (-1.05, 3.87), (9.955, 14.29), [-1, 0, 1, 2, 3],
         range(10, 15))
cn_panel((107.7, 830, 321.7, 990), D_YES1, (-1.035, 3.12), (7.16, 13.53), [-1, 0, 1, 2, 3],
         range(8, 14))
cn_panel((401, 829.3, 615, 990.7), D_MIR205, (-1.0, 3.80), (2.23, 17.25), [0, 1, 2, 3],
         range(4, 17, 2))
cn_panel((700.7, 829.3, 916, 990), D_MAPK1, (-1.08, 3.82), (10.19, 15.05), [-1, 0, 1, 2, 3],
         range(11, 15))


def T(x, y, s, **kw):
    kw.setdefault('ha', 'center')
    kw.setdefault('va', 'center')
    ov.text(x, y, s, **kw)


T(10, 90, 'a', fontsize=16, fontweight='bold', ha='left')
T(490, 88, 'b', fontsize=16, fontweight='bold', ha='left')
T(8, 530, 'c', fontsize=16, fontweight='bold', ha='left')
T(8, 801, 'd', fontsize=16, fontweight='bold', ha='left')

T(48, 252, r'Lung ADC $q$−value', fontsize=11, rotation=90)
T(296, 463, r'Best PanCancer tumor $q$−value', fontsize=11)
T(513, 251, r'Lung SqCC $q$−value', fontsize=11, rotation=90)
T(762, 465, r'Best PanCancer tumor $q$−value', fontsize=11)
T(762, 484, '(excluding HNSC and BLCA)', fontsize=11)

T(42, 632, 'Lung ADC expression', fontsize=11, rotation=90)
T(509, 778, 'Lung ADC focal copy number ratio', fontsize=11)
T(38, 907, 'Lung SqCC expression', fontsize=11, rotation=90)
T(506, 1040, 'Lung SqCC focal copy number ratio', fontsize=11)

for (x, y, s) in [(214, 532, 'CCND3'), (508, 532, 'MIR21'), (808, 532, 'MAPK1'),
                  (215, 815, 'YES1'), (508, 815, 'MIR205'), (808, 815, 'MAPK1')]:
    T(x, y, s, fontsize=14, style='italic')

LEG_CX = 430
T(LEG_CX, 9, 'Focal amplification frequency (%)', fontsize=11)
ov.plot([LEG_CX - 114, LEG_CX + 114], [18, 18], color='k', lw=0.8)
leg_x = [LEG_CX - 100 + 50 * i for i in range(len(LEG_LABELS))]
for i, lab in enumerate(LEG_LABELS):
    T(leg_x[i], 30, lab, fontsize=11)
ov.scatter(leg_x, [48] * len(leg_x), s=[d ** 2 for d in CAT_DIAM_PT], c=RED, linewidths=0)

fig.savefig('out.png', dpi=100)
